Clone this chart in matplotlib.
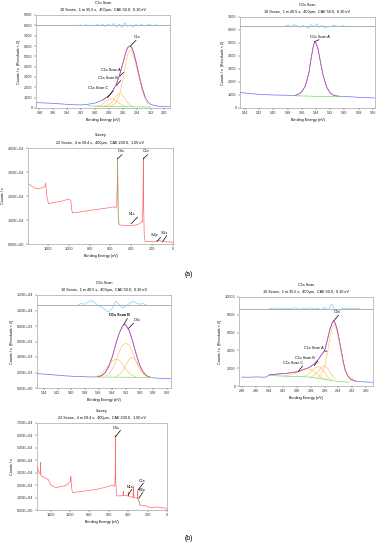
import matplotlib
matplotlib.use("Agg")
import matplotlib.pyplot as plt
from matplotlib.ticker import FuncFormatter

plt.rcParams["font.family"] = ["Liberation Sans", "DejaVu Sans"]

# ------------------------------
# text
SUB_C1S = "10 Scans,  1 m 35.5 s,  400\u00b5m,  CAE 50.0,  0.10 eV"
SUB_O1S = "10 Scans,  1 m 40.5 s,  400\u00b5m,  CAE 50.0,  0.10 eV"
SUB_SURV = "22 Scans,  4 m 59.4 s,  400\u00b5m,  CAE 200.0,  1.00 eV"
YLAB_SCAN = "Counts / s  (Residuals \u00d7 2)"
YLAB_SURV = "Counts / s"
XLAB = "Binding Energy (eV)"

# ------------------------------
# (a) C1s scan
c1a_be = [298.5, 297, 296, 295, 294, 293, 292, 291, 290, 289.5, 289, 288.5, 288, 287.5, 287,
          286.5, 286, 285.6, 285.3, 285.0, 284.7, 284.4, 284.0, 283.6, 283.2, 282.8, 282.4,
          282, 281, 280, 279.2]
c1a_cnt = [520, 480, 450, 400, 350, 310, 300, 360, 480, 600, 750, 950, 1200, 1600, 2200,
           3100, 4300, 5300, 5850, 6000, 5850, 5300, 4200, 3000, 1900, 1100, 600,
           350, 180, 130, 120]
c1a_main_be = [288, 287.5, 287, 286.5, 286, 285.6, 285.3, 285.0, 284.7, 284.4, 284.0, 283.6,
               283.2, 282.8, 282.4]
c1a_main = [150, 250, 500, 1200, 2700, 4200, 5200, 5600, 5500, 4900, 3900, 2800, 1700, 900, 400]
c1a_a_be = [289, 288, 287.5, 287, 286.5, 286.2, 285.8, 285.4, 285, 284.5]
c1a_a = [120, 300, 600, 1100, 1400, 1350, 1000, 600, 300, 120]
c1a_b_be = [290, 289, 288.5, 288, 287.5, 287, 286.5, 286, 285.5]
c1a_b = [100, 300, 600, 850, 900, 750, 450, 250, 100]
c1a_bg_be = [291, 288, 285, 282]
c1a_bg = [200, 150, 120, 100]
c1a_res_be = [292.5, 292.1, 291.7, 291.3, 290.9, 290.5, 290.1, 289.7, 289.3, 288.9, 288.5,
              288.1, 287.7, 287.3, 286.9, 286.5, 286.1, 285.7, 285.3, 284.9, 284.5, 284.1,
              283.7, 283.3, 282.9, 282.5, 282.1, 281.7, 281.3, 281.0]
c1a_res = [8000, 8040, 7970, 8060, 7980, 8030, 7950, 8080, 7960, 8100, 7880, 8150, 7920,
           8200, 7850, 8120, 7800, 8250, 7900, 8060, 7820, 8090, 7940, 8110, 7960, 8030,
           8070, 7980, 8050, 8000]

# (a) O1s scan
o1a_be = [544.7, 544, 543, 542, 541, 540, 539, 538, 537, 536.5, 536, 535.5, 535, 534.7, 534.4,
          534.2, 534.0, 533.7, 533.4, 533, 532.5, 532, 531.5, 531, 530, 529, 528, 527, 526, 525.7]
o1a_cnt = [1200, 1150, 1100, 1050, 1020, 1000, 990, 980, 960, 1050, 1250, 1700, 2700, 3800, 4700,
           5100, 5000, 4500, 3600, 2500, 1600, 1150, 970, 920, 880, 860, 820, 800, 780, 770]
o1a_bg_be = [537.5, 534, 530.5]
o1a_bg = [950, 900, 860]
o1a_res_be = [538.3, 537.9, 537.5, 537.1, 536.7, 536.3, 535.9, 535.5, 535.1, 534.7, 534.3,
              533.9, 533.5, 533.1, 532.7, 532.3, 531.9, 531.5, 531.1, 530.7, 530.3, 529.9, 529.5]
o1a_res = [6300, 6380, 6250, 6420, 6320, 6200, 6350, 6280, 6150, 6420, 6250, 6480, 6200,
           6350, 6150, 6300, 6250, 6380, 6300, 6260, 6340, 6280, 6300]

# (a) survey
sa_be = [1380, 1350, 1320, 1295, 1270, 1240, 1225, 1220, 1210, 1194, 1150, 1100, 1050, 1010,
         990, 979, 970, 963, 900, 800, 700, 600, 568, 550, 540, 534, 531, 528, 524, 518, 515,
         480, 420, 380, 347, 320, 300, 292, 287, 284, 281, 276, 268, 240, 200, 160, 130, 100,
         60, 16, 0]
sa_cnt = [2.5e4, 2.4e4, 2.32e4, 2.3e4, 2.33e4, 2.35e4, 2.45e4, 2.55e4, 2.0e4, 1.68e4, 1.72e4,
          1.76e4, 1.8e4, 1.87e4, 1.85e4, 1.8e4, 1.4e4, 1.29e4, 1.33e4, 1.4e4, 1.46e4, 1.52e4,
          1.55e4, 1.5e4, 1.6e4, 2.5e4, 3.58e4, 2.0e4, 1.1e4, 0.85e4, 0.8e4, 0.78e4, 0.77e4,
          0.78e4, 0.8e4, 0.85e4, 0.94e4, 0.9e4, 2.0e4, 3.6e4, 1.5e4, 0.4e4, 0.11e4, 0.1e4,
          0.1e4, 0.12e4, 0.15e4, 0.1e4, 0.09e4, 0.08e4, 0.05e4]

# (b) O1s scan
o1b_be = [545, 544, 543, 542, 541, 540, 539, 538, 537, 536, 535.5, 535, 534.5, 534, 533.5, 533,
          532.5, 532.2, 532, 531.5, 531, 530.5, 530, 529.5, 529, 528.5, 528, 527, 526, 525.4]
o1b_cnt = [1850, 1800, 1720, 1650, 1580, 1520, 1480, 1450, 1420, 1480, 1600, 2000, 2800, 4000,
           5600, 7000, 8000, 8200, 8100, 7400, 6000, 4400, 3000, 2100, 1600, 1400, 1300, 1250,
           1200, 1200]
o1b_mid_be = [535, 534.5, 534, 533.5, 533, 532.5, 532, 531.5, 531, 530.5, 530, 529.5, 529]
o1b_mid = [1500, 1800, 2400, 3400, 4600, 5500, 5800, 5500, 4600, 3400, 2400, 1800, 1500]
o1b_left_be = [536.5, 536, 535.5, 535, 534.5, 534, 533.5, 533.3, 533, 532.5, 532, 531.5, 531, 530.5]
o1b_left = [1450, 1600, 1900, 2400, 3000, 3500, 3700, 3700, 3600, 3100, 2400, 1900, 1600, 1450]
o1b_right_be = [533.5, 533, 532.5, 532, 531.5, 531.2, 531, 530.5, 530, 529.5, 529, 528.5, 528]
o1b_right = [1450, 1700, 2200, 3000, 3700, 3900, 3900, 3500, 2700, 2000, 1600, 1400, 1350]
o1b_bg_be = [536.5, 528]
o1b_bg = [1420, 1350]
o1b_res_be = [539, 538.5, 538, 537.5, 537, 536.5, 536, 535.5, 535, 534.5, 534, 533.5, 533,
              532.5, 532, 531.5, 531, 530.5, 530, 529.5, 529]
o1b_res = [10700, 10900, 10800, 11100, 11300, 11000, 10600, 10400, 10100, 9800, 10300, 11200,
           10800, 10300, 10600, 10900, 11200, 11000, 10800, 10900, 10700]

# (b) C1s scan
c1b_be = [298, 297, 296, 295, 294.5, 294, 293, 292, 291, 290, 289, 288.5, 288, 287.5, 287, 286.5,
          286, 285.6, 285.2, 284.9, 284.7, 284.5, 284.2, 283.9, 283.6, 283.3, 283, 282.6, 282.2,
          281.5, 281, 280, 279]
c1b_cnt = [1000, 980, 1020, 990, 1000, 1270, 1330, 1380, 1480, 1600, 1850, 2000, 2200, 2500,
           2900, 3450, 4000, 5200, 6500, 7100, 7300, 7100, 6400, 5200, 4000, 2700, 1750, 1100,
           750, 550, 500, 450, 420]
c1b_bg_be = [294, 293, 292, 291, 290, 289, 288, 287, 286, 285, 284, 283, 282.5]
c1b_bg = [1200, 1150, 1100, 1080, 1080, 1050, 980, 880, 760, 620, 500, 440, 430]
c1b_c_be = [292, 291, 290, 289.5, 289, 288.5, 288, 287.5, 287, 286.5, 286, 285.5]
c1b_c = [1120, 1250, 1500, 1700, 1900, 1950, 1850, 1600, 1300, 1000, 800, 650]
c1b_b_be = [289, 288.5, 288, 287.5, 287, 286.5, 286, 285.5, 285]
c1b_b = [1080, 1250, 1600, 2000, 2200, 2000, 1500, 1000, 700]
c1b_a_be = [288, 287.5, 287, 286.5, 286, 285.5, 285, 284.5]
c1b_a = [1000, 1200, 1600, 2100, 2300, 1900, 1300, 800]
c1b_main_be = [287, 286.5, 286, 285.6, 285.2, 284.9, 284.7, 284.5, 284.2, 283.9, 283.6, 283.3,
               283, 282.6, 282.2, 281.5]
c1b_main = [900, 1300, 2200, 3700, 5600, 6600, 6900, 6800, 6100, 5000, 3700, 2500, 1600, 1000,
            650, 500]
c1b_res_be = [294, 293.5, 293, 292.5, 292, 291.5, 291, 290.5, 290, 289.5, 289, 288.5, 288, 287.5,
              287, 286.5, 286, 285.5, 285, 284.5, 284, 283.5, 283, 282.5, 282, 281.5, 281]
c1b_res = [8700, 8750, 8650, 8780, 8690, 8740, 8660, 8800, 8700, 8620, 8760, 8680, 8790, 8640,
           8720, 8600, 8850, 8550, 9200, 8600, 8350, 8800, 8650, 8720, 8690, 8700, 8680]

# (b) survey
sb_be = [1340, 1319, 1307, 1305, 1303, 1298, 1250, 1222, 1198, 1146, 1042, 995, 991, 988, 980,
         972, 868, 700, 556, 538, 533, 531, 528, 521, 460, 453, 451, 449, 440, 417, 402, 399,
         396, 365, 350, 348, 345, 312, 304, 302, 300, 295, 285, 278, 243, 200, 180, 139, 100,
         60, 17, 0]
sb_cnt = [3.5e4, 2.97e4, 2.9e4, 3.83e4, 2.9e4, 2.75e4, 2.56e4, 2.43e4, 2.0e4, 1.8e4, 1.97e4,
          2.3e4, 2.7e4, 2.3e4, 1.6e4, 1.4e4, 1.5e4, 1.7e4, 2.0e4, 1.9e4, 3.0e4, 6.0e4, 2.5e4,
          1.13e4, 1.15e4, 1.15e4, 1.5e4, 1.15e4, 1.15e4, 1.15e4, 1.12e4, 1.45e4, 1.1e4, 1.05e4,
          1.0e4, 1.9e4, 1.0e4, 0.95e4, 0.95e4, 1.5e4, 0.9e4, 0.8e4, 0.6e4, 0.4e4, 0.35e4,
          0.3e4, 0.22e4, 0.2e4, 0.25e4, 0.18e4, 0.15e4, 0.05e4]

# peak labels: (text, text x, text y, leader from x, y, leader to x, y)
c1a_labels = [("C1s", 283.9, 6700, 284.9, 6000, 284.1, 6550),
              ("C1s Scan A", 287.7, 3500, 286.4, 3100, 285.9, 3450),
              ("C1s Scan B", 288.2, 2700, 286.9, 2200, 286.3, 2650),
              ("C1s Scan C", 289.6, 1700, 288.2, 1000, 287.4, 1650)]
o1a_labels = [("O1s Scan A", 533.4, 5300, 534.2, 5100, 533.6, 5250)]
o1b_labels = [("O1s Scan B", 532.9, 9100, 532.3, 8200, 531.8, 8950),
              ("O1s", 530.4, 8500, 531.6, 7700, 530.9, 8350)]
c1b_labels = [("C1s", 284.2, 8100, 284.7, 7300, 284.0, 7950),
              ("C1s Scan A", 287.6, 4100, 286.0, 3950, 285.7, 3900),
              ("C1s Scan B", 288.8, 2900, 287.5, 2300, 287.0, 2800),
              ("C1s Scan C", 290.6, 2350, 289.8, 1650, 289.2, 2250)]
sa_labels = [("O1s", 500, 3.78e4, 531, 3.55e4, 490, 3.72e4),
             ("C1s", 255, 3.78e4, 284, 3.55e4, 245, 3.72e4),
             ("N1s", 395, 1.18e4, 400, 0.85e4, 340, 1.12e4),
             ("Si2p", 175, 0.3e4, 155, 0.1e4, 120, 0.27e4),
             ("Si2s", 85, 0.38e4, 100, 0.1e4, 60, 0.35e4)]
sb_labels = [("O1s", 520, 6.45e4, 531, 5.9e4, 480, 6.4e4),
             ("N1s", 385, 1.72e4, 399, 1.2e4, 365, 1.65e4),
             ("C1s", 255, 2.2e4, 300, 1.6e4, 245, 2.15e4),
             ("K2p", 255, 1.45e4, 290, 0.95e4, 250, 1.4e4)]

# ------------------------------
W, H = 380, 550
fig = plt.figure(figsize=(W / 100, H / 100), dpi=100)
FS = 2.7


def make_ax(l, t, r, b):
    ax = fig.add_axes([l / W, 1 - b / H, (r - l) / W, (b - t) / H])
    for s in ax.spines.values():
        s.set_linewidth(0.4)
        s.set_color("#909090")
    ax.tick_params(labelsize=FS, length=1.5, width=0.3, pad=1, colors="#303030")
    return ax


def titles(ax, t1, t2, ylab):
    ax.text(0.5, 1.11, t1, transform=ax.transAxes, ha="center", va="bottom", fontsize=FS)
    ax.text(0.5, 1.03, t2, transform=ax.transAxes, ha="center", va="bottom", fontsize=FS)
    ax.set_ylabel(ylab, fontsize=FS, labelpad=2)
    ax.set_xlabel(XLAB, fontsize=FS, labelpad=1.5)


def labels(ax, items, bold=False):
    for txt, tx, ty, x0, y0, x1, y1 in items:
        ax.plot([x0, x1], [y0, y1], color="black", lw=0.5)
        ax.text(tx, ty, txt, fontsize=FS, ha="center", va="bottom",
                fontweight="bold" if bold and "Scan" in txt else "normal")


def scan_panel(ax, be, cnt, res_be, res, res_level, comps, bg, xlim, ylim, xt, yt):
    ax.plot(be, cnt, color="#6a6aff", lw=0.5)
    for cx, cy in comps:
        ax.plot(cx, cy, color="#ffc060", lw=0.45)
    ax.plot(bg[0], bg[1], color="#70e070", lw=0.5)
    ax.axhline(res_level, color="#909090", lw=0.5)
    ax.plot(res_be, res, color="#80c8f0", lw=0.45)
    ax.set_xlim(*xlim)
    ax.set_ylim(*ylim)
    ax.set_xticks(xt)
    ax.set_yticks(yt)


# -------- (a) C1s --------
ax1 = make_ax(36, 15, 170, 108)
scan_panel(ax1, c1a_be, c1a_cnt, c1a_res_be, c1a_res, 8000,
           [(c1a_main_be, c1a_main), (c1a_a_be, c1a_a), (c1a_b_be, c1a_b)],
           (c1a_bg_be, c1a_bg), (298.5, 279.2), (0, 9000),
           range(298, 279, -2), range(0, 9001, 1000))
ax1.plot(c1a_be[10:26], c1a_cnt[10:26], color="#d050a0", lw=0.5)
titles(ax1, "C1s Scan", SUB_C1S, YLAB_SCAN)
labels(ax1, c1a_labels)

# -------- (a) O1s --------
ax2 = make_ax(240, 17, 375, 108)
scan_panel(ax2, o1a_be, o1a_cnt, o1a_res_be, o1a_res, 6300, [],
           (o1a_bg_be, o1a_bg), (544.7, 525.7), (0, 7000),
           range(544, 525, -2), range(0, 7001, 1000))
ax2.plot(o1a_be[8:24], o1a_cnt[8:24], color="#d050a0", lw=0.5)
titles(ax2, "O1s Scan", SUB_O1S, YLAB_SCAN)
labels(ax2, o1a_labels)

# -------- (a) Survey --------
ax3 = make_ax(28, 148, 173, 244)
ax3.plot(sa_be, sa_cnt, color="#ff6a6a", lw=0.5)
ax3.plot(sa_be[26:30], sa_cnt[26:30], color="#70d070", lw=0.4)
ax3.set_xlim(1390, 0)
ax3.set_ylim(0, 4.0e4)
ax3.set_xticks(range(1200, -1, -200))
ax3.set_yticks([0, 1e4, 2e4, 3e4, 4e4])
ax3.yaxis.set_major_formatter(FuncFormatter(lambda v, p: f"{v:.2E}"))
titles(ax3, "Survey", SUB_SURV, YLAB_SURV)
labels(ax3, sa_labels)

fig.text(189 / W, 1 - 275 / H, "(a)", fontsize=5, ha="center", va="center")

# -------- (b) O1s --------
ax4 = make_ax(37, 295, 171, 388)
scan_panel(ax4, o1b_be, o1b_cnt, o1b_res_be, o1b_res, 10700,
           [(o1b_mid_be, o1b_mid), (o1b_left_be, o1b_left), (o1b_right_be, o1b_right)],
           (o1b_bg_be, o1b_bg), (545, 525.4), (0, 1.2e4),
           range(544, 525, -2), range(0, 12001, 2000))
ax4.plot(o1b_be[9:26], o1b_cnt[9:26], color="#d050a0", lw=0.5)
ax4.yaxis.set_major_formatter(FuncFormatter(lambda v, p: f"{v:.2E}"))
titles(ax4, "O1s Scan", SUB_O1S, YLAB_SCAN)
labels(ax4, o1b_labels, bold=True)

# -------- (b) C1s --------
ax5 = make_ax(239, 297, 373, 386)
scan_panel(ax5, c1b_be, c1b_cnt, c1b_res_be, c1b_res, 8700,
           [(c1b_c_be, c1b_c), (c1b_b_be, c1b_b), (c1b_a_be, c1b_a), (c1b_main_be, c1b_main)],
           (c1b_bg_be, c1b_bg), (298.4, 279), (0, 10000),
           range(298, 279, -2), range(0, 10001, 2000))
ax5.plot(c1b_be[5:30], c1b_cnt[5:30], color="#d050a0", lw=0.5)
titles(ax5, "C1s Scan", SUB_C1S, YLAB_SCAN)
labels(ax5, c1b_labels)

# -------- (b) Survey --------
ax6 = make_ax(37, 423, 167, 510)
ax6.plot(sb_be, sb_cnt, color="#ff6a6a", lw=0.5)
ax6.plot(sb_be[41:44], sb_cnt[41:44], color="#70d070", lw=0.4)
ax6.set_xlim(1340, 0)
ax6.set_ylim(0, 7.0e4)
ax6.set_xticks(range(1200, -1, -200))
ax6.set_yticks([i * 1e4 for i in range(8)])
ax6.yaxis.set_major_formatter(FuncFormatter(lambda v, p: f"{v:.2E}"))
titles(ax6, "Survey", SUB_SURV, YLAB_SURV)
labels(ax6, sb_labels)

fig.text(189 / W, 1 - 539 / H, "(b)", fontsize=5, ha="center", va="center")

fig.savefig("out.png", dpi=100)
